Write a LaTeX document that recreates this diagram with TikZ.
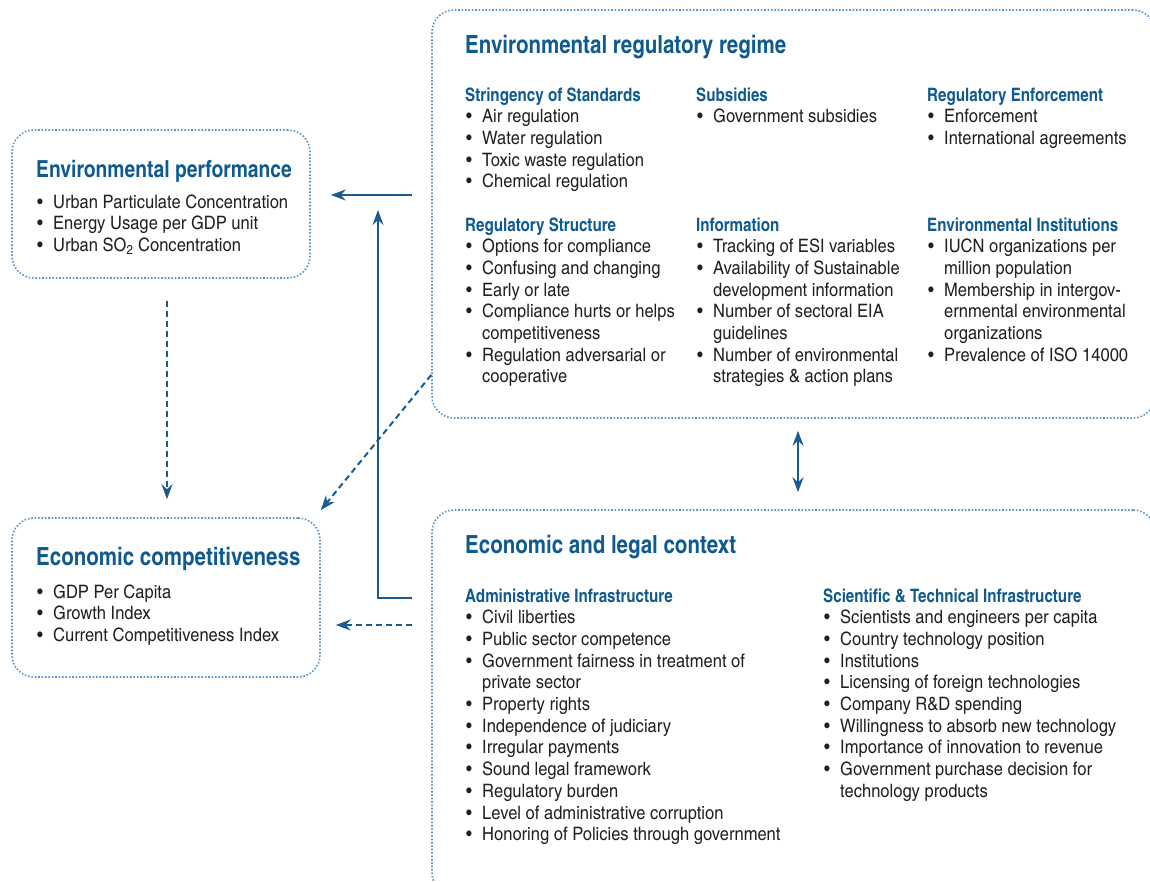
\documentclass[tikz,border=0pt]{standalone}
\usepackage{fontspec}
\setmainfont{texgyreheroscn}[Extension=.otf, UprightFont=*-regular, BoldFont=*-bold,
  UprightFeatures={FakeStretch=1.09}]
\usetikzlibrary{arrows.meta, calc}

\definecolor{boxblue}{HTML}{5B93C5}
\definecolor{arrblue}{HTML}{1B5B8F}
\definecolor{ttlblue}{HTML}{0F5A8E}
\definecolor{txtgray}{HTML}{231F20}

\newcommand\ttlfont{\fontsize{25}{28}\selectfont\bfseries}
\newcommand\itmfont{\fontsize{18.5}{21.7}\selectfont}
\newcommand\hd[1]{{\bfseries\color{ttlblue}#1}}
\newcommand\itm{\makebox[17pt][l]{\hspace{1pt}\textbullet}}
\newcommand\cnt{\hspace*{17pt}}

\begin{document}
\begin{tikzpicture}[x=1pt, y=-1pt,
  box/.style={draw=boxblue, line width=1.6pt, dash pattern=on 1.6pt off 1.8pt, rounded corners=22pt},
  arr/.style={draw=arrblue, line width=2pt, -{Stealth[length=15pt,width=11pt,inset=5pt]}},
  darr/.style={arr, dash pattern=on 6pt off 4pt},
  ttl/.style={anchor=base west, inner sep=0pt, font=\ttlfont, text=ttlblue},
  col/.style={anchor=base west, inner sep=0pt, font=\itmfont, text=txtgray}]

\useasboundingbox (0,0) rectangle (1150,881);

% boxes
\node (ep) [box, minimum width=298pt, minimum height=148pt] at (161,204) {};
\node (ec) [box, minimum width=308pt, minimum height=159pt] at (166,597.5) {};
\node (err) [box, minimum width=723pt, minimum height=408pt] at (793.5,214) {};
\node (elc) [box, minimum width=723pt, minimum height=385pt] at (793.5,702.5) {};

% environmental performance
\node (ep_t) [ttl, font=\fontsize{23.5}{28}\selectfont\bfseries] at (36,177) {Environmental performance};
\node (ep_l) [col] at (36,208) {\begin{tabular}[t]{@{}l@{}}
\itm Urban Particulate Concentration\\
\itm Energy Usage per GDP unit\\
\itm Urban SO\textsubscript{2} Concentration
\end{tabular}};

% economic competitiveness
\node (ec_t) [ttl] at (36,565) {Economic competitiveness};
\node (ec_l) [col] at (36,598) {\begin{tabular}[t]{@{}l@{}}
\itm GDP Per Capita\\
\itm Growth Index\\
\itm Current Competitiveness Index
\end{tabular}};

% environmental regulatory regime
\node (err_t) [ttl] at (465,53) {Environmental regulatory regime};
\node (stand) [col] at (465,101) {\begin{tabular}[t]{@{}l@{}}
\hd{Stringency of Standards}\\
\itm Air regulation\\
\itm Water regulation\\
\itm Toxic waste regulation\\
\itm Chemical regulation
\end{tabular}};
\node (subs) [col] at (696,101) {\begin{tabular}[t]{@{}l@{}}
\hd{Subsidies}\\
\itm Government subsidies
\end{tabular}};
\node (enf) [col] at (927,101) {\begin{tabular}[t]{@{}l@{}}
\hd{Regulatory Enforcement}\\
\itm Enforcement\\
\itm International agreements
\end{tabular}};
\node (struct) [col] at (465,231) {\begin{tabular}[t]{@{}l@{}}
\hd{Regulatory Structure}\\
\itm Options for compliance\\
\itm Confusing and changing\\
\itm Early or late\\
\itm Compliance hurts or helps\\
\cnt competitiveness\\
\itm Regulation adversarial or\\
\cnt cooperative
\end{tabular}};
\node (info) [col] at (696,231) {\begin{tabular}[t]{@{}l@{}}
\hd{Information}\\
\itm Tracking of ESI variables\\
\itm Availability of Sustainable\\
\cnt development information\\
\itm Number of sectoral EIA\\
\cnt guidelines\\
\itm Number of environmental\\
\cnt strategies \& action plans
\end{tabular}};
\node (inst) [col] at (927,231) {\begin{tabular}[t]{@{}l@{}}
\hd{Environmental Institutions}\\
\itm IUCN organizations per\\
\cnt million population\\
\itm Membership in intergov-\\
\cnt ernmental environmental\\
\cnt organizations\\
\itm Prevalence of ISO 14000
\end{tabular}};

% economic and legal context
\node (elc_t) [ttl] at (465,553) {Economic and legal context};
\node (admin) [col] at (465,602) {\begin{tabular}[t]{@{}l@{}}
\hd{Administrative Infrastructure}\\
\itm Civil liberties\\
\itm Public sector competence\\
\itm Government fairness in treatment of\\
\cnt private sector\\
\itm Property rights\\
\itm Independence of judiciary\\
\itm Irregular payments\\
\itm Sound legal framework\\
\itm Regulatory burden\\
\itm Level of administrative corruption\\
\itm Honoring of Policies through government
\end{tabular}};
\node (tech) [col] at (823,602) {\begin{tabular}[t]{@{}l@{}}
\hd{Scientific \& Technical Infrastructure}\\
\itm Scientists and engineers per capita\\
\itm Country technology position\\
\itm Institutions\\
\itm Licensing of foreign technologies\\
\itm Company R\&D spending\\
\itm Willingness to absorb new technology\\
\itm Importance of innovation to revenue\\
\itm Government purchase decision for\\
\cnt technology products
\end{tabular}};

% connectors
\coordinate (bend) at (378,210);
\draw[arr, shorten <=19pt, shorten >=20pt] (err.west |- 0,195) -- (ep.east |- 0,195);
\draw[arr, shorten <=19pt] (elc.west |- 0,598) -| (bend);
\draw[darr] (err.west |- 0,375) -- ($(ec.north east)+(0,-7)$);
\draw[darr, shorten <=19pt, shorten >=15pt] (elc.west |- 0,625) -- (ec.east |- 0,625);
\draw[darr, shorten <=22pt, shorten >=18pt] (ep.south -| 167,0) -- (ec.north -| 167,0);
\draw[arr, {Stealth[length=15pt,width=11pt,inset=5pt]}-{Stealth[length=15pt,width=11pt,inset=5pt]}, shorten <=12pt, shorten >=17pt] (err.south -| 798,0) -- (elc.north -| 798,0);

\end{tikzpicture}
\end{document}
